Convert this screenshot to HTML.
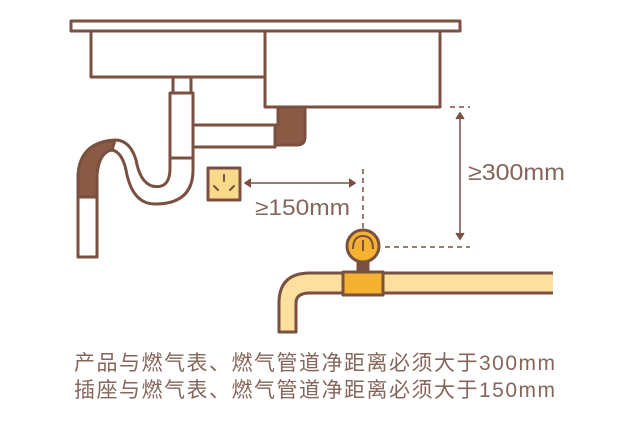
<!DOCTYPE html>
<html><head><meta charset="utf-8"><style>
html,body{margin:0;padding:0;background:#fff;width:640px;height:432px;overflow:hidden}
svg{display:block}
.t{font-family:"Liberation Sans","Noto Sans CJK SC",sans-serif;fill:#86665a}
</style></head><body>
<svg width="640" height="432" viewBox="0 0 640 432" xmlns="http://www.w3.org/2000/svg">
<g stroke="#7a5040" stroke-width="3" fill="#fff" stroke-linejoin="round">
  <rect x="71" y="21" width="389" height="10"/>
  <rect x="91" y="31" width="174" height="46"/>
  <rect x="265" y="31" width="175" height="76"/>
  <path d="M278 107 H305 V137 Q305 145 297 145 H275 V125 H278 Z" fill="#8b5a45" stroke="#7a5040"/>
  <rect x="173" y="77" width="18" height="16"/>
  <rect x="191" y="125" width="84" height="22"/>
  <rect x="170" y="93" width="23" height="65"/>
  <path d="M170 158 V168 Q170 190 152 186 Q140 182 136 160 Q130 140 115 140 L112 150 Q122 152 126 170 Q132 204 155 204 Q193 204 193 170 V158 Z"/>
  <path d="M115 140 Q80 142 78 175 V197 H97 V175 Q99 152 112 150 Z" fill="#8b5a45"/>
  <rect x="78" y="197" width="19" height="60"/>
  <rect x="208" y="168" width="32" height="32" fill="#fbd98a"/>
</g>
<g stroke="#7a5040" stroke-width="2" stroke-linecap="round">
  <line x1="224" y1="175" x2="224" y2="181"/>
  <line x1="214" y1="186" x2="218" y2="190"/>
  <line x1="234" y1="186" x2="230" y2="190"/>
</g>
<g stroke="#7a5040" stroke-width="1.5" fill="none">
  <line x1="246" y1="183" x2="353" y2="183"/>
  <path d="M251 179 L245 183 L251 187" fill="#7a5040"/>
  <path d="M349 179 L355 183 L349 187" fill="#7a5040"/>
  <line x1="363" y1="169" x2="363" y2="228" stroke-dasharray="5 4"/>
  <line x1="450" y1="107" x2="470" y2="107" stroke-dasharray="5 4"/>
  <line x1="385" y1="247" x2="470" y2="247" stroke-dasharray="5 4"/>
  <line x1="460" y1="114" x2="460" y2="238"/>
  <path d="M456 119 L460 113 L464 119" fill="#7a5040"/>
  <path d="M456 233 L460 239 L464 233" fill="#7a5040"/>
</g>
<text class="t" x="255" y="215" font-size="22" textLength="95" lengthAdjust="spacingAndGlyphs">≥150mm</text>
<text class="t" x="468" y="180" font-size="23" textLength="97" lengthAdjust="spacingAndGlyphs">≥300mm</text>
<g stroke="#7a5040" stroke-width="3" stroke-linejoin="round">
  <path d="M553 273 H310 Q279 273 279 303 V332 H296 V303 Q296 293 310 293 H553" fill="#fde0a0"/>
  <rect x="358" y="258" width="10" height="16" fill="#7a5040"/>
  <circle cx="363" cy="246" r="16" fill="#f5b230"/>
  <path d="M353 249 Q353 236 363 236 Q373 236 373 249" fill="none" stroke-width="2"/>
  <line x1="363" y1="240" x2="363" y2="251" stroke-width="2"/>
  <rect x="343" y="272" width="40" height="23" fill="#f5b230"/>
</g>
<text class="t" x="74" y="370" font-size="21" textLength="481" lengthAdjust="spacing">产品与燃气表、燃气管道净距离必须大于300mm</text>
<text class="t" x="74" y="397" font-size="21" textLength="481" lengthAdjust="spacing">插座与燃气表、燃气管道净距离必须大于150mm</text>
</svg>
</body></html>
